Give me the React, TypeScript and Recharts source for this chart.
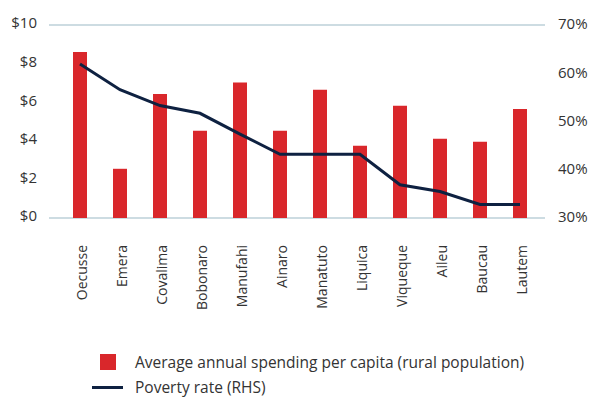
import React from 'react'
import {
  ComposedChart, Bar, Line, XAxis, YAxis, CartesianGrid, Legend,
} from 'recharts'

const districts = [
  'Oecusse', 'Emera', 'Covalima', 'Bobonaro', 'Manufahi', 'Ainaro',
  'Manatuto', 'Liquica', 'Viqueque', 'Aileu', 'Baucau', 'Lautem',
]
const spending = [8.6, 2.55, 6.43, 4.52, 7.02, 4.52, 6.64, 3.74, 5.81, 4.1, 3.95, 5.65]
const poverty = [61.9, 56.6, 53.3, 51.7, 47.4, 43.2, 43.2, 43.2, 36.9, 35.5, 32.8, 32.8]
const dollarTicks = [0, 2, 4, 6, 8, 10]
const pctTicks = [30, 40, 50, 60, 70]

const RED = '#d9272b'
const NAVY = '#0e2141'
const TEXT = '#333333'
const FONT = '"Open Sans", sans-serif'

const data = districts.map((name, i) => ({
  name,
  spending: spending[i],
  poverty: poverty[i],
}))

const XTick = ({ x, y, payload }: any) => (
  <text
    transform={`translate(${x},${y + 19}) rotate(-90)`}
    textAnchor="end"
    dy={6.5}
    fontSize={14}
    fontFamily={FONT}
    fill={TEXT}
  >
    {payload.value}
  </text>
)

const rowStyle: React.CSSProperties = { display: 'flex', alignItems: 'center', height: 16, lineHeight: '16px' }

const LegendBox = () => (
  <div style={{ fontFamily: FONT, fontSize: 15.5, color: TEXT }}>
    <div style={rowStyle}>
      <span style={{ display: 'inline-block', width: 16, height: 16, background: RED, marginLeft: 12, marginRight: 19 }} />
      <span>Average annual spending per capita (rural population)</span>
    </div>
    <div style={{ ...rowStyle, marginTop: 9 }}>
      <span style={{ display: 'inline-block', width: 31, height: 3, background: NAVY, marginLeft: 4, marginRight: 12 }} />
      <span>Poverty rate (RHS)</span>
    </div>
  </div>
)

export default function App() {
  return (
    <div style={{ position: 'absolute', left: 0, top: 0 }}>
      <ComposedChart
        width={592}
        height={399}
        data={data}
        margin={{ top: 25, right: 0, left: 0, bottom: 0 }}
      >
        <CartesianGrid vertical={false} stroke="#bdd0d8" strokeWidth={1.5} />
        <XAxis
          dataKey="name"
          interval={0}
          axisLine={false}
          tickLine={false}
          height={181}
          padding={{ left: 11, right: 5 }}
          tick={<XTick />}
        />
        <YAxis
          yAxisId="usd"
          width={49}
          domain={[0, 10]}
          ticks={dollarTicks}
          axisLine={false}
          tickLine={false}
          tickSize={0}
          tickMargin={12}
          tickFormatter={(v) => `$${v}`}
          tick={{ fontSize: 15, fontFamily: FONT, fill: TEXT, dy: -2 }}
        />
        <YAxis
          yAxisId="pct"
          orientation="right"
          width={47}
          domain={[30, 70]}
          ticks={pctTicks}
          axisLine={false}
          tickLine={false}
          tickSize={0}
          tickMargin={13}
          tickFormatter={(v) => `${v}%`}
          tick={{ fontSize: 15, fontFamily: FONT, fill: TEXT, dy: -1 }}
        />
        <Legend
          layout="vertical"
          align="center"
          verticalAlign="middle"
          wrapperStyle={{ top: 354, left: 88, width: 500 }}
          content={<LegendBox />}
        />
        <Bar
          yAxisId="usd"
          dataKey="spending"
          name="Average annual spending per capita (rural population)"
          fill={RED}
          barSize={14}
          isAnimationActive={false}
        />
        <Line
          yAxisId="pct"
          type="linear"
          dataKey="poverty"
          name="Poverty rate (RHS)"
          stroke={NAVY}
          strokeWidth={3}
          dot={false}
          isAnimationActive={false}
        />
      </ComposedChart>
    </div>
  )
}
